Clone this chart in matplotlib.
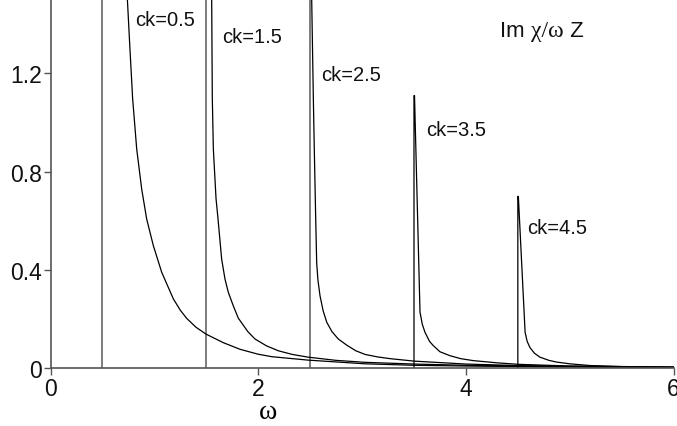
import numpy as np
import matplotlib
matplotlib.use("Agg")
import matplotlib.pyplot as plt
from matplotlib.offsetbox import TextArea, HPacker, AnchoredOffsetbox

# ---- data ----
ck_values = [0.5, 1.5, 2.5, 3.5, 4.5]
ck_labels = ["ck=0.5", "ck=1.5", "ck=2.5", "ck=3.5", "ck=4.5"]
peak_heights = [None, None, None, 1.11, 0.70]   # None: peak beyond the plotted range

c05_x = [0.740, 0.765, 0.791, 0.830, 0.878, 0.926, 0.990, 1.071, 1.183, 1.25, 1.311, 1.40, 1.497,
         1.664, 1.825, 2.0, 2.13, 2.48, 3.03, 3.5, 4.0, 5.0, 6.0]
c05_y = [1.503, 1.30, 1.097, 0.893, 0.730, 0.608, 0.500, 0.391, 0.283, 0.237, 0.204, 0.168, 0.140,
         0.105, 0.078, 0.058, 0.048, 0.034, 0.019, 0.013, 0.010, 0.006, 0.004]

c15_x = [1.552, 1.558, 1.568, 1.594, 1.610, 1.632, 1.648, 1.680, 1.712, 1.760, 1.808, 1.900,
         1.969, 2.08, 2.194, 2.33, 2.482, 2.75, 3.03, 3.5, 4.0, 5.0, 6.0]
c15_y = [1.503, 1.10, 0.893, 0.690, 0.622, 0.520, 0.445, 0.364, 0.310, 0.255, 0.205, 0.150,
         0.120, 0.092, 0.072, 0.057, 0.046, 0.033, 0.025, 0.018, 0.013, 0.008, 0.005]

c25_x = [2.515, 2.531, 2.540, 2.553, 2.563, 2.575, 2.595, 2.625, 2.66, 2.71, 2.771, 2.852,
         2.94, 3.03, 3.15, 3.27, 3.5, 4.0, 4.5, 5.0, 6.0]
c25_y = [1.503, 1.096, 0.893, 0.622, 0.430, 0.36, 0.296, 0.235, 0.188, 0.150, 0.120, 0.095,
         0.072, 0.057, 0.047, 0.040, 0.030, 0.018, 0.012, 0.009, 0.005]

c35_x = [3.5, 3.5, 3.505, 3.558, 3.58, 3.606, 3.65, 3.686, 3.75, 3.847, 3.95, 4.07, 4.3, 4.5, 5.0, 6.0]
c35_y = [0.0, 1.11, 1.11, 0.229, 0.18, 0.147, 0.11, 0.093, 0.068, 0.052, 0.040, 0.032, 0.023, 0.017, 0.010, 0.005]

c45_x = [4.5, 4.5, 4.505, 4.57, 4.59, 4.617, 4.66, 4.713, 4.8, 4.874, 5.0, 5.195, 5.5, 6.0]
c45_y = [0.0, 0.70, 0.70, 0.147, 0.11, 0.085, 0.062, 0.046, 0.033, 0.026, 0.019, 0.012, 0.008, 0.005]

curves = [(c05_x, c05_y), (c15_x, c15_y), (c25_x, c25_y), (c35_x, c35_y), (c45_x, c45_y)]

label_x = [0.814, 1.654, 2.602, 3.62, 4.59]
label_y = [1.419, 1.351, 1.194, 0.974, 0.574]

x_ticks = [0, 2, 4, 6]
y_ticks = [0, 0.4, 0.8, 1.2]
y_tick_labels = ["0", "0.4", "0.8", "1.2"]

# ---- figure ----
plt.rcParams['font.family'] = ['Liberation Sans', 'DejaVu Sans']
fig = plt.figure(figsize=(6.77, 4.27), dpi=100)
ax = fig.add_axes([0.0746, 0.1347, 0.9204, 0.8653])

axis_col = '#555555'
for ck, pk in zip(ck_values, peak_heights):
    if pk is None:
        ax.axvline(ck, color='#666666', lw=1.2, zorder=1)

for (cx, cy) in curves:
    ax.plot(cx, cy, color='black', lw=0.9, zorder=2, solid_joinstyle='round')

for t, lx, ly in zip(ck_labels, label_x, label_y):
    ax.text(lx, ly, t, fontsize=14.5, ha='left', va='center', color='#111111')

ax.set_xlim(0, 6)
ax.set_ylim(0, 1.503)
ax.set_xticks(x_ticks)
ax.set_xticklabels([str(v) for v in x_ticks])
ax.set_yticks(y_ticks)
ax.set_yticklabels(y_tick_labels)

for s in ['top', 'right']:
    ax.spines[s].set_visible(False)
for s in ['left', 'bottom']:
    ax.spines[s].set_color(axis_col)
    ax.spines[s].set_linewidth(1.2)
ax.tick_params(axis='both', direction='out', length=5, width=1.0, color=axis_col,
               labelsize=16.5, pad=1, labelcolor='#111111')

ax.set_xlabel('ω', family=['Liberation Serif', 'DejaVu Serif'], fontsize=20, labelpad=0)
ax.xaxis.set_label_coords(0.349, -0.082)

# title "Im χ/ω Z"
parts = [
    TextArea("Im ", textprops=dict(fontsize=16, family=['Liberation Sans'], color='#111111')),
    TextArea("χ/ω", textprops=dict(fontsize=17, family=['Liberation Serif'], color='#111111')),
    TextArea(" Z", textprops=dict(fontsize=16, family=['Liberation Sans'], color='#111111')),
]
box = HPacker(children=parts, align="baseline", pad=0, sep=0)
anch = AnchoredOffsetbox(loc='center left', child=box, pad=0, frameon=False,
                         bbox_to_anchor=(4.33, 1.373), bbox_transform=ax.transData, borderpad=0)
ax.add_artist(anch)

fig.savefig('out.png', dpi=100)
